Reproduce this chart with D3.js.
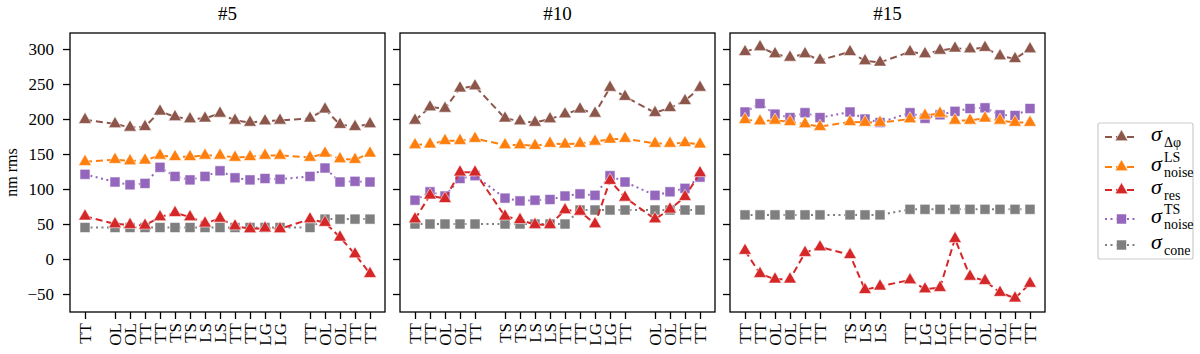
<!DOCTYPE html>
<html>
  <head>
    <meta charset="utf-8">
    <title>nm rms per panel</title>
    <style>
      body { margin: 0; background: white; }
      svg, svg text { font-family: "Liberation Serif", "DejaVu Serif", serif; }
      .axis path, .axis line { stroke: #000; stroke-width: 1.3; }
      .axis text { font-size: 17px; fill: #000; }
      .frame { fill: none; stroke: #000; stroke-width: 1.3; }
      .title { font-size: 19px; text-anchor: middle; }
    </style>
  </head>
  <body>
  <svg id="chart" width="1200" height="354"></svg>
  <script src="https://d3js.org/d3.v7.min.js"></script>
  <script>
  // panel titles
  var titles = ["#5", "#10", "#15"];

  // occupied slots on the x axis and their labels
  var slots5  = [0, 2, 3, 4, 5, 6, 7, 8, 9, 10, 11, 12, 13, 15, 16, 17, 18, 19];
  var labels5 = ["TT", "OL", "OL", "TT", "TT", "TS", "TS", "LS", "LS", "TT", "TT", "LG", "LG", "TT", "OL", "OL", "TT", "TT"];
  var slots10  = [0, 1, 2, 3, 4, 6, 7, 8, 9, 10, 11, 12, 13, 14, 16, 17, 18, 19];
  var labels10 = ["TT", "TT", "OL", "OL", "TT", "TS", "TS", "LS", "LS", "TT", "TT", "LG", "LG", "TT", "OL", "OL", "TT", "TT"];
  var slots15  = [0, 1, 2, 3, 4, 5, 7, 8, 9, 11, 12, 13, 14, 15, 16, 17, 18, 19];
  var labels15 = ["TT", "TT", "OL", "OL", "TT", "TT", "TS", "LS", "LS", "TT", "LG", "LG", "TT", "TT", "OL", "OL", "TT", "TT"];

  // series values, one per slot
  var dphi5  = [199, 193, 188, 189, 211, 203, 200, 201, 208, 198, 195, 197, 198, 201, 214, 192, 189, 193];
  var ls5    = [139, 142, 140, 141, 148, 146, 146, 148, 148, 145, 146, 148, 148, 145, 151, 143, 142, 151];
  var res5   = [61, 50, 49, 48, 60, 66, 60, 51, 58, 47, 43, 44, 43, 57, 52, 31, 7, -21];
  var ts5    = [121, 110, 106, 108, 131, 118, 113, 118, 126, 116, 113, 115, 114, 118, 130, 110, 111, 110];
  var cone5  = [45, 45, 45, 45, 45, 45, 45, 45, 45, 45, 45, 45, 45, 45, 57, 57, 57, 57];

  var dphi10 = [198, 217, 215, 244, 247, 201, 197, 195, 200, 207, 214, 208, 245, 232, 209, 216, 226, 245];
  var ls10   = [163, 164, 169, 169, 172, 163, 163, 162, 165, 164, 165, 168, 171, 172, 165, 165, 166, 164];
  var res10  = [57, 91, 86, 124, 124, 61, 56, 49, 49, 70, 68, 50, 112, 88, 57, 71, 89, 123];
  var ts10   = [84, 96, 90, 115, 119, 87, 83, 84, 85, 90, 93, 91, 119, 110, 91, 96, 101, 117];
  var cone10 = [50, 50, 50, 50, 50, 50, 50, 50, 50, 50, 70, 70, 70, 70, 70, 70, 70, 70];

  var dphi15 = [296, 303, 293, 288, 293, 284, 296, 283, 281, 296, 293, 298, 301, 300, 302, 290, 286, 300];
  var ls15   = [199, 197, 198, 196, 193, 189, 196, 195, 195, 200, 205, 208, 198, 198, 201, 198, 195, 195];
  var res15  = [12, -21, -29, -29, 9, 17, 6, -44, -39, -30, -43, -41, 29, -25, -31, -48, -56, -35];
  var ts15   = [210, 222, 207, 202, 209, 202, 210, 200, 195, 209, 201, 206, 211, 215, 216, 206, 205, 215];
  var cone15 = [63, 63, 63, 63, 63, 63, 63, 63, 63, 71, 71, 71, 71, 71, 71, 71, 71, 71];

  var yTicks = [-50, 0, 50, 100, 150, 200, 250, 300];

  var panels = [
    {title: titles[0], slots: slots5, labels: labels5, vals: [dphi5, ls5, res5, ts5, cone5]},
    {title: titles[1], slots: slots10, labels: labels10, vals: [dphi10, ls10, res10, ts10, cone10]},
    {title: titles[2], slots: slots15, labels: labels15, vals: [dphi15, ls15, res15, ts15, cone15]}
  ];

  // styles, same order as vals
  var styles = [
    {color: "#8c564b", shape: d3.symbolTriangle, dash: "7,4"},
    {color: "#ff7f0e", shape: d3.symbolTriangle, dash: "7,4"},
    {color: "#d62728", shape: d3.symbolTriangle, dash: "7,4"},
    {color: "#9467bd", shape: d3.symbolSquare, dash: "2,3.5"},
    {color: "#7f7f7f", shape: d3.symbolSquare, dash: "2,3.5"}
  ];
  var drawOrder = [4, 3, 2, 1, 0];
  var triSize = 72, sqSize = 100;

  var svg = d3.select("#chart");
  var plotTop = 33, plotBottom = 312, pw = 315;
  var lefts = [70, 400, 730];

  var y = d3.scaleLinear().domain([-75.7, 322.9]).range([plotBottom, plotTop]);

  panels.forEach(function(p, pi) {
    var x = d3.scaleLinear().domain([-1, 20]).range([lefts[pi], lefts[pi] + pw]);
    var g = svg.append("g");

    g.append("g")
      .attr("class", "axis")
      .attr("transform", "translate(0," + plotBottom + ")")
      .call(d3.axisBottom(x).tickValues(p.slots).tickSize(7).tickSizeOuter(0)
        .tickFormat(function(d) { return p.labels[p.slots.indexOf(d)]; }))
      .attr("font-family", null).attr("font-size", null)
      .call(function(a) {
        a.select(".domain").remove();
        a.selectAll("text")
          .attr("transform", "rotate(-90)")
          .attr("x", -11).attr("y", 0).attr("dy", "0.33em")
          .style("text-anchor", "end");
      });

    g.append("g")
      .attr("class", "axis")
      .attr("transform", "translate(" + lefts[pi] + ",0)")
      .call(d3.axisLeft(y).tickValues(yTicks).tickSize(7).tickPadding(9)
        .tickFormat(pi === 0 ? d3.format("d") : function() { return ""; }))
      .attr("font-family", null).attr("font-size", null)
      .call(function(a) { a.select(".domain").remove(); });

    drawOrder.forEach(function(si) {
      var s = styles[si];
      var pts = p.slots.map(function(sl, i) { return [x(sl), y(p.vals[si][i])]; });
      g.append("path")
        .attr("d", d3.line()(pts))
        .attr("fill", "none")
        .attr("stroke", s.color)
        .attr("stroke-width", 2)
        .attr("stroke-dasharray", s.dash);
      g.selectAll(null).data(pts).enter().append("path")
        .attr("transform", function(d) { return "translate(" + d[0] + "," + d[1] + ")"; })
        .attr("d", d3.symbol().type(s.shape).size(s.shape === d3.symbolSquare ? sqSize : triSize))
        .attr("fill", s.color)
        .attr("stroke", "#fff")
        .attr("stroke-opacity", 0.55)
        .attr("stroke-width", 1);
    });

    g.append("rect").attr("class", "frame")
      .attr("x", lefts[pi]).attr("y", plotTop).attr("width", pw).attr("height", plotBottom - plotTop);

    svg.append("text").attr("class", "title")
      .attr("x", lefts[pi] + pw / 2).attr("y", 20).text(p.title);
  });

  svg.append("text")
    .attr("transform", "translate(17," + (plotTop + plotBottom) / 2 + ") rotate(-90)")
    .style("text-anchor", "middle").style("font-size", "16px")
    .text("nm rms");

  // legend
  var lg = svg.append("g");
  lg.append("rect").attr("x", 1098).attr("y", 123).attr("width", 95).attr("height", 136)
    .attr("rx", 2).attr("fill", "#fff").attr("stroke", "#ccc").attr("stroke-width", 1.2);
  var legendY = [137, 167, 190, 219, 245];
  var legendSub = ["Δφ", "noise", "res", "noise", "cone"];
  var legendSup = ["", "LS", "", "TS", ""];
  styles.forEach(function(s, i) {
    var ly = legendY[i];
    lg.append("line").attr("x1", 1105).attr("x2", 1138).attr("y1", ly).attr("y2", ly)
      .attr("stroke", s.color).attr("stroke-width", 2).attr("stroke-dasharray", s.dash);
    lg.append("path").attr("transform", "translate(1121.5," + ly + ")")
      .attr("d", d3.symbol().type(s.shape).size(s.shape === d3.symbolSquare ? sqSize : triSize)())
      .attr("fill", s.color).attr("stroke", "#fff").attr("stroke-opacity", 0.55);
    lg.append("text").attr("x", 1151).attr("y", ly + 4)
      .style("font-size", "22px").style("font-style", "italic").text("σ");
    lg.append("text").attr("x", 1164).attr("y", ly + 10)
      .style("font-size", "14px").text(legendSub[i]);
    if (legendSup[i]) {
      lg.append("text").attr("x", 1164).attr("y", ly - 5)
        .style("font-size", "14px").text(legendSup[i]);
    }
  });
  </script>
  </body>
</html>
